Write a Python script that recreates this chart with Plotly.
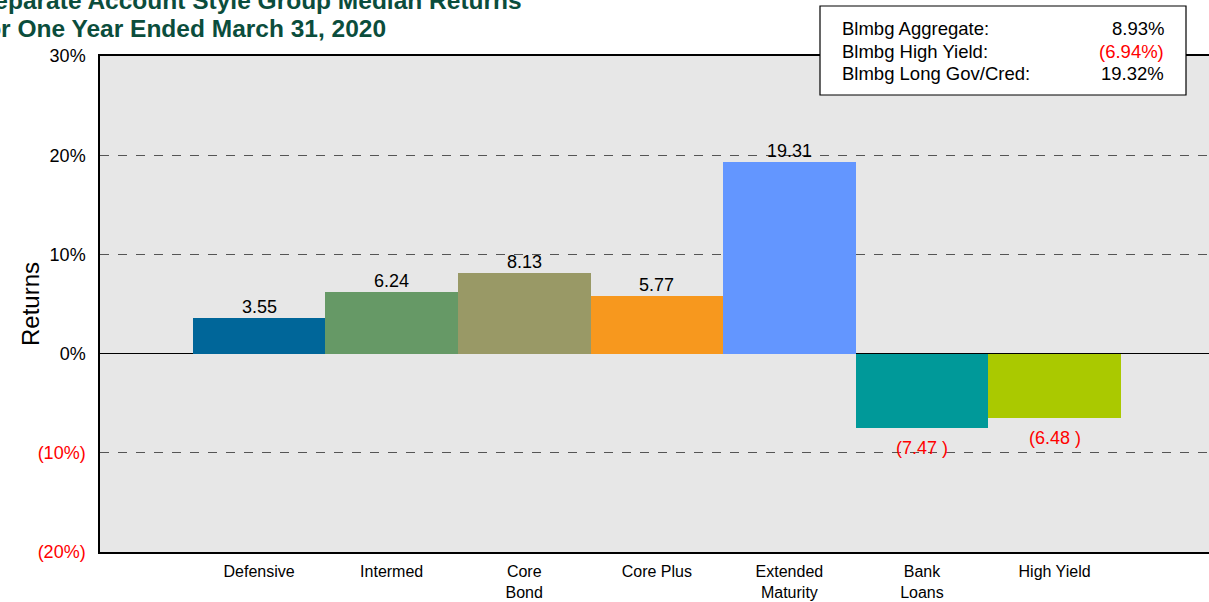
import plotly.graph_objects as go

# style groups and their median one-year returns (%)
categories = ["Defensive", "Intermed", "Core<br>Bond", "Core Plus",
              "Extended<br>Maturity", "Bank<br>Loans", "High Yield"]
returns = [3.55, 6.24, 8.13, 5.77, 19.31, -7.47, -6.48]
bar_colors = ["#006699", "#669966", "#999966", "#F7981E",
              "#6396FF", "#009999", "#AAC900"]

# benchmark box
bench_names = ["Blmbg Aggregate:", "Blmbg High Yield:", "Blmbg Long Gov/Cred:"]
bench_values = [8.93, -6.94, 19.32]

y_ticks = [30, 20, 10, 0, -10, -20]

title_lines = ["Separate Account Style Group Median Returns",
               "for One Year Ended March 31, 2020"]

FONT = "Liberation Sans, Arial, sans-serif"
RED = "#FF0000"
W, H = 1209, 602
L, R, T, B = 100, 0, 56, 50


def px_x(p):
    return (p - L) / (W - L - R)


def px_y(p):
    return (H - B - p) / (H - T - B)


def fmt_tick(v):
    if v < 0:
        return f"<span style='color:{RED}'>({abs(v)}%)</span>"
    return f"{v}%"


def fmt_bench(v):
    return f"({abs(v):.2f}%)" if v < 0 else f"{v:.2f}%"


x_idx = list(range(len(categories)))

fig = go.Figure()
fig.add_trace(go.Bar(
    x=x_idx, y=returns, width=1.0,
    marker=dict(color=bar_colors, line=dict(width=0)),
    hoverinfo="skip",
))

annotations = []
# value labels
for i, v in enumerate(returns):
    if v >= 0:
        annotations.append(dict(x=i, y=v, xref="x", yref="y", text=f"{v:.2f}",
                                showarrow=False, yanchor="middle", yshift=11,
                                font=dict(size=18, color="#000000")))
    else:
        annotations.append(dict(x=i, y=v, xref="x", yref="y", text=f"({abs(v):.2f} )",
                                showarrow=False, yanchor="middle", yshift=-20,
                                font=dict(size=18, color=RED)))

# title (runs off the left edge like the original)
for k, line in enumerate(title_lines):
    annotations.append(dict(x=px_x(-24), y=px_y(0 + 28 * k), xref="paper", yref="paper",
                            text=f"<b>{line}</b>", showarrow=False,
                            xanchor="left", yanchor="middle",
                            font=dict(size=24.5, color="#0B4D3C")))

# benchmark box text
for k, (name, val) in enumerate(zip(bench_names, bench_values)):
    yy = px_y(29 + 22 * k)
    annotations.append(dict(x=px_x(840), y=yy, xref="paper", yref="paper", text=name,
                            showarrow=False, xanchor="left", yanchor="middle",
                            font=dict(size=18.5, color="#000000")))
    annotations.append(dict(x=px_x(1166), y=yy, xref="paper", yref="paper",
                            text=fmt_bench(val), showarrow=False,
                            xanchor="right", yanchor="middle",
                            font=dict(size=18.5, color=RED if val < 0 else "#000000")))

# y axis title
annotations.append(dict(x=px_x(30), y=px_y(304), xref="paper", yref="paper",
                        text="Returns", textangle=-90, showarrow=False,
                        xanchor="center", yanchor="middle",
                        font=dict(size=24, color="#000000")))

fig.update_layout(
    width=W, height=H,
    margin=dict(l=L, r=R, t=T, b=B, autoexpand=False),
    paper_bgcolor="#FFFFFF",
    plot_bgcolor="#E7E7E7",
    font=dict(family=FONT, size=18, color="#000000"),
    showlegend=False,
    bargap=0,
    annotations=annotations,
    shapes=[dict(type="rect", xref="paper", yref="paper",
                 x0=px_x(820), x1=px_x(1186), y0=px_y(95), y1=px_y(6),
                 fillcolor="#FFFFFF", line=dict(color="#000000", width=1.2),
                 layer="above")],
)

fig.update_xaxes(
    range=[-1.2, 7.165],
    tickvals=x_idx, ticktext=categories,
    showgrid=False, zeroline=False, automargin=False,
    showline=True, mirror=True, linecolor="#000000", linewidth=1.5,
    ticks="", ticklabelstandoff=4,
    tickfont=dict(size=16, color="#000000"),
)
fig.update_yaxes(
    range=[-20, 30],
    tickvals=y_ticks, ticktext=[fmt_tick(v) for v in y_ticks],
    showgrid=True, gridcolor="#555555", griddash="dash", gridwidth=1,
    zeroline=True, zerolinecolor="#000000", zerolinewidth=1.2, automargin=False,
    showline=True, linecolor="#000000", linewidth=1.5,
    ticks="", ticklabelstandoff=9,
    tickfont=dict(size=18, color="#000000"),
)

# page margins off so the figure sits at the window's top-left corner
fig.write_html("out.html", config={"displayModeBar": False},
               post_script="document.body.style.margin='0';"
                           "document.body.style.overflow='hidden';")
